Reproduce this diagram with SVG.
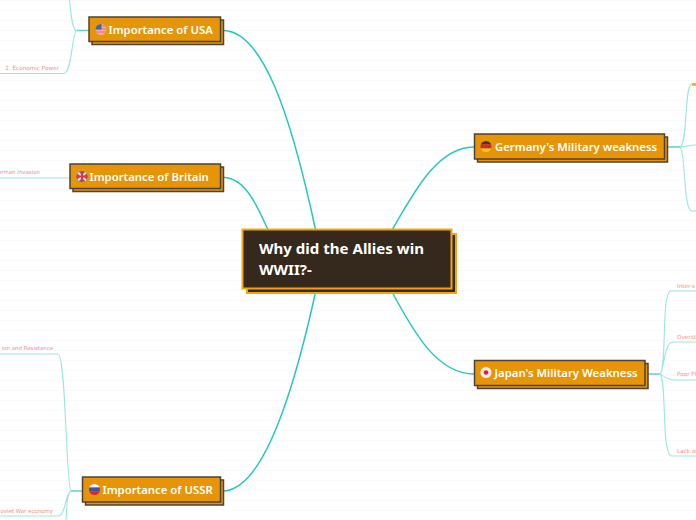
<svg xmlns="http://www.w3.org/2000/svg" width="696" height="520" viewBox="0 0 696 520">
<defs>
<style>
.bg{stroke:#fafafa;stroke-width:1;fill:none}
.main{stroke:#25c8bf;stroke-width:1.5;fill:none}
.stem{stroke:#55d5ce;stroke-width:1.500;fill:none}
.sub{stroke:#9be6e1;stroke-width:1.100;fill:none}
.box{fill:#e69508;stroke:#4f4234;stroke-width:1.500}
.ttl{font-family:"Noto Sans","Open Sans",sans-serif;font-weight:600;font-size:11.350px;fill:#fff}
.lbl{font-family:"DejaVu Sans",sans-serif;font-size:5.700px;fill:#f39089}
.e{text-anchor:end}
.s{font-size:5.450px}
.root{fill:#35281c;stroke:#f5a40e;stroke-width:2}
.rt{font-family:"Noto Sans","Open Sans",sans-serif;font-weight:700;font-size:15.050px;fill:#fff}
</style>
<clipPath id="c"><circle cx="0" cy="0" r="5.500"/></clipPath>
</defs>
<g id="grid">
<path class="bg" d="M0 .5H696M0 10.500H696M0 20.500H696M0 30.500H696M0 40.500H696M0 50.500H696M0 60.500H696M0 70.500H696M0 80.500H696M0 90.500H696M0 100.500H696M0 110.500H696M0 120.500H696M0 130.500H696M0 140.500H696M0 150.500H696M0 160.500H696M0 170.500H696M0 180.500H696M0 190.500H696M0 200.500H696M0 210.500H696M0 220.500H696M0 230.500H696M0 240.500H696M0 250.500H696M0 260.500H696M0 270.500H696M0 280.500H696M0 290.500H696M0 300.500H696M0 310.500H696M0 320.500H696M0 330.500H696M0 340.500H696M0 350.500H696M0 360.500H696M0 370.500H696M0 380.500H696M0 390.500H696M0 400.500H696M0 410.500H696M0 420.500H696M0 430.500H696M0 440.500H696M0 450.500H696M0 460.500H696M0 470.500H696M0 480.500H696M0 490.500H696M0 500.500H696M0 510.500H696"/>
</g>
<g id="connectors">
<path class="main" d="M224 30.500C262 32 290 110 316 232"/>
<path class="main" d="M224 177.500C245 178 257 205 269 232"/>
<path class="main" d="M224 491C262 489 292 400 316 290"/>
<path class="main" d="M474 147C438 147 415 190 391 232"/>
<path class="main" d="M474 374C438 374 415 335 391 290"/>
<path class="stem" d="M89 30.500H76.500M82 491H71M667 147H680M648 374H660"/>
<path class="sub" d="M69.500 0C71 14 72 30 76.500 30.500C72 32 72 73 64 73.500H0"/>
<path class="sub" d="M0 178H70"/>
<path class="sub" d="M71 491C66 488 66 354 58 354H0M71 491C65 492 66 516 58 516H0M71 491C67 493 67 505 66 520"/>
<path class="sub" d="M680 147C688 144 684 84 692 84H696M680 147C685 147 688 145 696 145M680 147C686 152 683 211 692 211H696"/>
<path class="sub" d="M660 374C667 370 661 291 671 291H696M660 374C664 372 664 342 673 342H696M660 374C664 376 667 380 675 380H696M660 374C667 380 661 456 672 456H696"/>
<path d="M692 84.500H696" stroke="#f5a43a" stroke-width="2.500" fill="none"/>
</g>
<g id="root">
<rect class="root" x="247" y="234" width="209" height="59"/>
<rect class="root" x="242.500" y="229.500" width="209" height="59"/>
<text class="rt" x="259" y="254">Why did the Allies win</text>
<text class="rt" x="259" y="275">WWII?-</text>
</g>
<g id="usa">
<rect class="box" x="92" y="20" width="131.500" height="24.500"/>
<rect class="box" x="89" y="17" width="131.500" height="24.500"/>
<g transform="translate(101 29.500)"><g clip-path="url(#c)"><rect x="-6" y="-6" width="12" height="12" fill="#f3a9a9"/><path d="M-6-3.500H6M-6-.5H6M-6 2.500H6" stroke="#ec6f70" stroke-width="1.200"/><rect x="-6" y="-6" width="6.500" height="6" fill="#3d6ca0"/></g></g>
<text class="ttl" x="108.500" y="34">Importance of USA</text>
</g>
<g id="britain">
<rect class="box" x="73" y="167" width="150.500" height="24.500"/>
<rect class="box" x="70" y="164" width="150.500" height="24.500"/>
<g transform="translate(82 176.500)"><g clip-path="url(#c)"><rect x="-6" y="-6" width="12" height="12" fill="#5a7396"/><path d="M-6-6L6 6M6-6L-6 6" stroke="#f0d8d8" stroke-width="2"/><path d="M0-6V6M-6 0H6" stroke="#ee2f3f" stroke-width="2"/></g></g>
<text class="ttl" x="89.500" y="181">Importance of Britain</text>
</g>
<g id="ussr">
<rect class="box" x="85.500" y="480" width="138" height="25"/>
<rect class="box" x="82.500" y="477" width="138" height="25"/>
<g transform="translate(94.500 489.500)"><g clip-path="url(#c)"><rect x="-6" y="-6" width="12" height="4" fill="#f4f4f4"/><rect x="-6" y="-2" width="12" height="4" fill="#3d55a5"/><rect x="-6" y="2" width="12" height="4" fill="#d8262c"/></g></g>
<text class="ttl" x="102.500" y="494">Importance of USSR</text>
</g>
<g id="germany">
<rect class="box" x="477.500" y="137" width="190" height="25"/>
<rect class="box" x="474.500" y="134" width="190" height="25"/>
<g transform="translate(486 146.500)"><g clip-path="url(#c)"><rect x="-6" y="-6" width="12" height="4" fill="#3a3a3a"/><rect x="-6" y="-2" width="12" height="4" fill="#d8262c"/><rect x="-6" y="2" width="12" height="4" fill="#f2c62e"/></g></g>
<text class="ttl" x="495" y="151">Germany's Military weakness</text>
</g>
<g id="japan">
<rect class="box" x="477.500" y="363.500" width="170.500" height="25"/>
<rect class="box" x="474.500" y="360.500" width="170.500" height="25"/>
<g transform="translate(486 372.500)"><circle r="5.500" fill="#f4ece4"/><circle r="2.300" fill="#dd2238"/></g>
<text class="ttl" x="494.500" y="377">Japan's Military Weakness</text>
</g>
<g id="labels">
<text class="lbl e" x="59" y="70">2.  Economic Power</text>
<text class="lbl e s" x="40" y="174">erman Invasion</text>
<text class="lbl e s" x="53" y="350">ion and Resistance</text>
<text class="lbl e s" x="53" y="513">oviet War economy</text>
<text class="lbl" x="677" y="288">Inter-s</text>
<text class="lbl" x="677" y="339">Overst</text>
<text class="lbl" x="677" y="376">Poor Pl</text>
<text class="lbl" x="677" y="453">Lack of</text>
</g>
</svg>
